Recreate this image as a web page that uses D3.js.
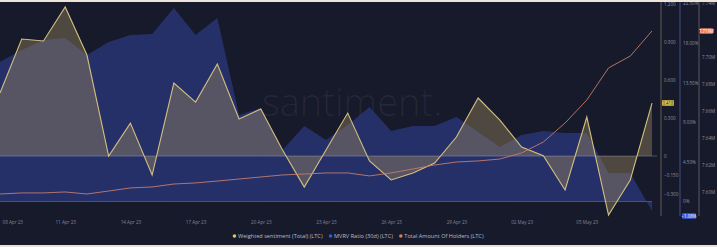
<!DOCTYPE html>
<html><head><meta charset="utf-8">
<script src="https://cdn.jsdelivr.net/npm/d3@7"></script>
<style>html,body{margin:0;padding:0;background:#171a2b;overflow:hidden}svg{display:block}</style>
</head><body>
<svg id="c" width="717" height="247"></svg>
<script>
const dates = ["08 Apr 23","09 Apr 23","10 Apr 23","11 Apr 23","12 Apr 23","13 Apr 23","14 Apr 23","15 Apr 23","16 Apr 23","17 Apr 23","18 Apr 23","19 Apr 23","20 Apr 23","21 Apr 23","22 Apr 23","23 Apr 23","24 Apr 23","25 Apr 23","26 Apr 23","27 Apr 23","28 Apr 23","29 Apr 23","30 Apr 23","01 May 23","02 May 23","03 May 23","04 May 23","05 May 23","06 May 23","07 May 23","08 May 23"];
const sentiment = [0.497,0.923,0.908,1.176,0.797,0.0,0.260,-0.150,0.576,0.426,0.726,0.292,0.371,0.047,-0.245,0.047,0.339,-0.039,-0.189,-0.134,-0.055,0.150,0.458,0.284,0.071,0.002,-0.268,0.308,-0.466,-0.189,0.418];
const mvrv = [15.85,17.22,18.35,18.58,16.65,18.13,18.92,19.03,21.99,18.92,20.85,9.83,10.63,5.85,8.58,6.99,8.69,10.74,8.01,8.58,8.58,9.60,7.90,6.19,7.56,8.01,7.78,7.78,3.24,3.24,-1.08];
const holders = [7.5985,7.5993,7.5993,7.6,7.5985,7.6007,7.603,7.6037,7.6059,7.6067,7.6081,7.6096,7.6111,7.6126,7.6133,7.6141,7.6141,7.6119,7.6141,7.617,7.62,7.6222,7.623,7.6244,7.6289,7.637,7.6511,7.6681,7.6919,7.7007,7.7193];
const xTickIdx = [0,3,6,9,12,15,18,21,24,27];
const sentTicks = [1.2,0.9,0.6,0.3,0,-0.15,-0.3];
const mvrvTicks = [22.5,18,13.5,9,4.5,0];
const holderTicks = [7.74,7.70,7.68,7.66,7.64,7.62,7.60];
const legendItems = ["Weighted sentiment (Total) (LTC)","MVRV Ratio (30d) (LTC)","Total Amount Of Holders (LTC)"];

const svg = d3.select("#c");
const W = 717, H = 247;
const pTop = 3, pBottom = 216, pLeft = 0, pRight = 652;
const font = "'Open Sans', 'Noto Sans', sans-serif";

svg.append("rect").attr("width",W).attr("height",H).attr("fill","#171a2b");

const x = d3.scaleLinear().domain([0, dates.length-1]).range([pLeft,pRight]);
const yS = d3.scaleLinear().domain([-0.473,1.2075]).range([pBottom,pTop]);
const yM = d3.scaleLinear().domain([-1.648,22.557]).range([pBottom,pTop]);
const yH = d3.scaleLinear().domain([7.5822,7.74]).range([pBottom,pTop]);

// watermark
svg.append("text").attr("x",262).attr("y",116).attr("font-family",font).attr("font-weight",300)
  .attr("font-size",38).attr("fill","rgba(255,255,255,0.06)").text("santiment.");

// MVRV area
svg.append("path").datum(mvrv)
  .attr("d", d3.area().x((d,i)=>x(i)).y0(yM(0)).y1(d=>yM(d)))
  .attr("fill","#27326b").attr("opacity",0.95);

// sentiment area
svg.append("path").datum(sentiment)
  .attr("d", d3.area().x((d,i)=>x(i)).y0(yS(0)).y1(d=>yS(d)))
  .attr("fill","rgba(155,135,92,0.42)");

// zero lines
svg.append("line").attr("x1",pLeft).attr("x2",pRight+5).attr("y1",yS(0)).attr("y2",yS(0))
  .attr("stroke","rgba(190,190,200,0.35)").attr("stroke-width",1);
svg.append("line").attr("x1",pLeft).attr("x2",pRight).attr("y1",yM(0)).attr("y2",yM(0))
  .attr("stroke","rgba(120,140,220,0.45)").attr("stroke-width",1);

// sentiment line
svg.append("path").datum(sentiment)
  .attr("d", d3.line().x((d,i)=>x(i)).y(d=>yS(d)))
  .attr("fill","none").attr("stroke","#d2c07e").attr("stroke-width",1.1);

// holders line
svg.append("path").datum(holders)
  .attr("d", d3.line().x((d,i)=>x(i)).y(d=>yH(d)))
  .attr("fill","none").attr("stroke","#c27c6c").attr("stroke-width",0.9);

// right axes
function rAxis(scale, xpos, ticks, fmt, lineColor){
  const g = svg.append("g").attr("transform",`translate(${xpos},0)`)
    .call(d3.axisRight(scale).tickValues(ticks).tickSize(0).tickPadding(3).tickFormat(fmt));
  g.select(".domain").remove();
  g.append("line").attr("x1",0).attr("x2",0).attr("y1",0).attr("y2",pBottom)
    .attr("stroke",lineColor).attr("stroke-width",1.2);
  g.selectAll("text").attr("font-family",font).attr("font-size",4.6).attr("fill","#8c91a0");
  return g;
}
rAxis(yS, 661, sentTicks, d=>d===0?"0":d3.format(".3f")(d), "#55534c");
rAxis(yM, 680, mvrvTicks, d=>d===0?"0%":d3.format(".2f")(d)+"%", "#3c4678");
rAxis(yH, 699, holderTicks, d=>d3.format(".2f")(d)+"M", "#524d58");

// value boxes
function box(xpos, yc, w, color, txt, tcolor){
  svg.append("rect").attr("x",xpos).attr("y",yc-2.8).attr("width",w).attr("height",5.6)
    .attr("rx",0.8).attr("fill",color);
  svg.append("text").attr("x",xpos+w/2).attr("y",yc+1.6).attr("text-anchor","middle")
    .attr("font-family",font).attr("font-size",4.4).attr("fill",tcolor).text(txt);
}
box(662, yS(sentiment[sentiment.length-1]), 12, "#e3c64e", d3.format(".3f")(sentiment[sentiment.length-1]), "#2a2410");
box(682, yM(mvrv[mvrv.length-1])+5, 14, "#3d5de0", d3.format(".2f")(mvrv[mvrv.length-1])+"%", "#ffffff");
box(700, yH(holders[holders.length-1]), 13, "#e8805e", d3.format(".3f")(holders[holders.length-1])+"M", "#ffffff");

// x axis
const gx = svg.append("g").attr("transform",`translate(0,218)`)
  .call(d3.axisBottom(x).tickValues(xTickIdx).tickSize(0).tickPadding(3).tickFormat(i=>dates[i]));
gx.select(".domain").remove();
gx.selectAll("text").attr("font-family",font).attr("font-size",4.6).attr("fill","#80859a");
gx.selectAll("text").filter((d,i)=>i===0).attr("text-anchor","start").attr("x",2);

// legend
const legColors = ["#e0c85e","#3f58cf","#e27a52"];
const lg = svg.append("g");
let cx = 0;
legendItems.forEach((t,i)=>{
  const g = lg.append("g").attr("transform",`translate(${cx},0)`);
  g.append("circle").attr("cx",2).attr("cy",0).attr("r",1.8).attr("fill",legColors[i]);
  const tx = g.append("text").attr("x",5.5).attr("y",1.9).attr("font-family",font)
    .attr("font-size",5.6).attr("fill","#b9bdc9").text(t);
  cx += 5.5 + tx.node().getComputedTextLength() + 6;
});
const lw = cx - 6;
lg.attr("transform",`translate(${(238+478)/2 - lw/2},236)`);

// light border strips
svg.append("rect").attr("x",0).attr("y",0).attr("width",W).attr("height",2).attr("fill","#eee5d9");
svg.append("rect").attr("x",0).attr("y",H-2).attr("width",W).attr("height",2).attr("fill","#e9e1d6");
</script>
</body></html>
